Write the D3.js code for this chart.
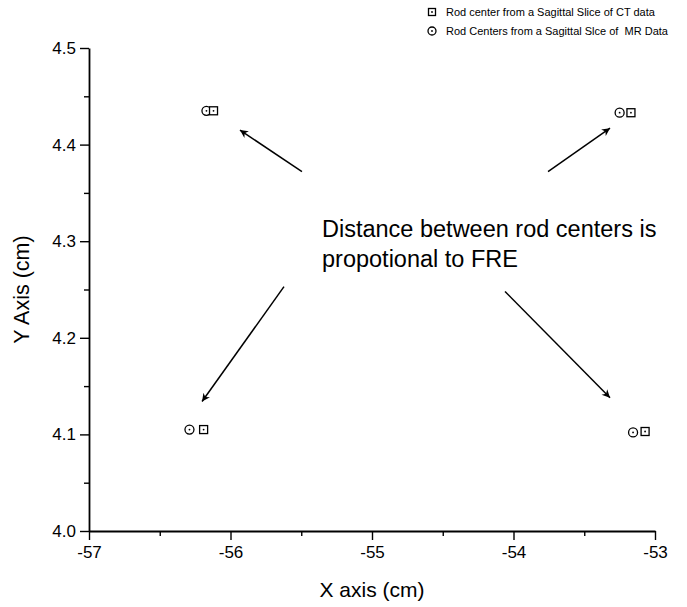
<!DOCTYPE html>
<html>
<head>
<meta charset="utf-8">
<script src="https://cdn.jsdelivr.net/npm/d3@7"></script>
<style>
  body { margin: 0; background: #fff; }
  text { font-family: "Liberation Sans", Arial, sans-serif; fill: #000; }
</style>
</head>
<body>
<div id="chart"></div>
<script>
// rod centers (cm)
var ctX = [-56.12, -53.17, -56.19, -53.07];
var ctY = [4.435, 4.433, 4.105, 4.103];
var mrX = [-56.17, -53.25, -56.29, -53.155];
var mrY = [4.435, 4.433, 4.105, 4.102];

var xTicks = [-57, -56, -55, -54, -53];
var yTicks = [4.0, 4.1, 4.2, 4.3, 4.4, 4.5];

var legendLabels = ["Rod center from a Sagittal Slice of CT data",
  "Rod Centers from a Sagittal Slce of  MR Data"];
var noteLines = ["Distance between rod centers is", "propotional to FRE"];

// arrows: [tailX, tailY, headX, headY] in data units
var arrows = [
  [-55.495, 4.372, -55.933, 4.415],
  [-53.756, 4.372, -53.318, 4.417],
  [-55.622, 4.253, -56.201, 4.134],
  [-54.06, 4.248, -53.318, 4.138]];

var width = 687,
height = 607,
padLeft = 89,
padRight = 655,
padTop = 48,
padBottom = 531;

var xScale = d3.scaleLinear().
domain([-57, -53]).
range([padLeft, padRight]);
var yScale = d3.scaleLinear().
domain([4.0, 4.5]).
range([padBottom, padTop]);

var svg = d3.select('#chart').
append('svg').
attr('width', width).
attr('height', height);

svg.append('defs').
append('marker').
attr('id', 'head').
attr('viewBox', '0 0 10 10').
attr('refX', 10).
attr('refY', 5).
attr('markerWidth', 17).
attr('markerHeight', 8).
attr('markerUnits', 'userSpaceOnUse').
attr('orient', 'auto').
append('path').
attr('d', 'M0,0 L10,5 L0,10 L3,5 Z').
attr('fill', '#000');

// axes
var xAxis = d3.axisBottom(xScale).
tickValues(xTicks).
tickFormat(d => d).
tickSizeInner(9).
tickPadding(6).
tickSizeOuter(0);
var yAxis = d3.axisLeft(yScale).
tickValues(yTicks).
tickFormat(d3.format('.1f')).
tickSizeInner(9).
tickPadding(4).
tickSizeOuter(0);

var gx = svg.append('g').
attr('transform', 'translate(0,' + padBottom + ')').
call(xAxis);
var gy = svg.append('g').
attr('transform', 'translate(' + padLeft + ',0)').
call(yAxis);

// minor ticks
svg.append('g').
attr('transform', 'translate(0,' + padBottom + ')').
call(d3.axisBottom(xScale).tickValues(xTicks.slice(0, -1).map(d => d + 0.5)).tickFormat('').tickSizeInner(5).tickSizeOuter(0)).
select('.domain').remove();
svg.append('g').
attr('transform', 'translate(' + padLeft + ',0)').
call(d3.axisLeft(yScale).tickValues(yTicks.slice(0, -1).map(d => d + 0.05)).tickFormat('').tickSizeInner(5).tickSizeOuter(0)).
select('.domain').remove();

svg.selectAll('.domain').attr('stroke-width', 1.8);
svg.selectAll('.tick line').attr('stroke-width', 1.4);
gx.selectAll('.tick text').attr('font-size', 17);
gy.selectAll('.tick text').attr('font-size', 17);

svg.append('text').
attr('x', (padLeft + padRight) / 2).
attr('y', 597).
attr('text-anchor', 'middle').
attr('font-size', 21).
text('X axis (cm)');

svg.append('text').
attr('transform', 'translate(29,' + (padTop + padBottom) / 2 + ') rotate(-90)').
attr('text-anchor', 'middle').
attr('font-size', 21.5).
text('Y Axis (cm)');

// points
function square(g, x, y, s) {
  g.append('rect').
  attr('x', x - s / 2).
  attr('y', y - s / 2).
  attr('width', s).
  attr('height', s).
  attr('fill', '#fff').
  attr('stroke', '#000').
  attr('stroke-width', 1.3);
  g.append('circle').attr('cx', x).attr('cy', y).attr('r', 0.9).attr('fill', '#000');
}
function ring(g, x, y, s) {
  g.append('circle').
  attr('cx', x).
  attr('cy', y).
  attr('r', s / 2).
  attr('fill', '#fff').
  attr('stroke', '#000').
  attr('stroke-width', 1.3);
  g.append('circle').attr('cx', x).attr('cy', y).attr('r', 0.9).attr('fill', '#000');
}

var pts = svg.append('g');
mrX.forEach((d, i) => ring(pts, xScale(d), yScale(mrY[i]), 9));
ctX.forEach((d, i) => square(pts, xScale(d), yScale(ctY[i]), 8));

// arrows
svg.selectAll('.arrow').
data(arrows).
enter().
append('line').
attr('class', 'arrow').
attr('x1', d => xScale(d[0])).
attr('y1', d => yScale(d[1])).
attr('x2', d => xScale(d[2])).
attr('y2', d => yScale(d[3])).
attr('stroke', '#000').
attr('stroke-width', 1.5).
attr('marker-end', 'url(#head)');

svg.selectAll('.note').
data(noteLines).
enter().
append('text').
attr('class', 'note').
attr('x', 322).
attr('y', (d, i) => 237 + i * 30).
attr('font-size', 23.5).
text(d => d);

// legend
var lg = svg.append('g');
square(lg, 432, 12, 7);
ring(lg, 432, 31, 8);
lg.selectAll('.lt').
data(legendLabels).
enter().
append('text').
attr('class', 'lt').
attr('x', 446).
attr('y', (d, i) => 16 + i * 19).
attr('font-size', 11).
attr('xml:space', 'preserve').
style('white-space', 'pre').
text(d => d);
</script>
</body>
</html>
